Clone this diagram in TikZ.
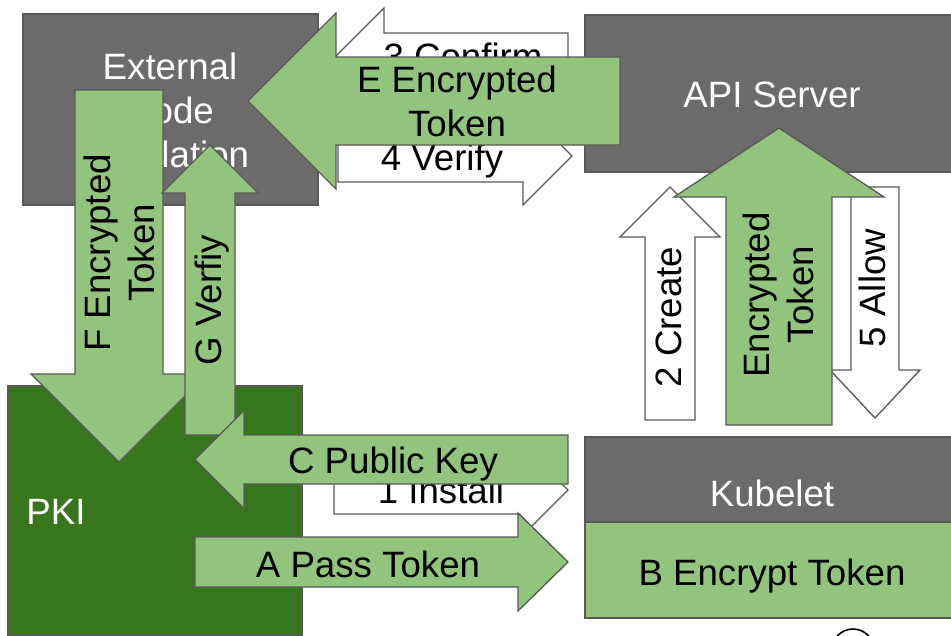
\documentclass[tikz,border=0pt]{standalone}
\usepackage{fontspec}
\setmainfont{Liberation Sans}
\definecolor{boxgray}{HTML}{6B6B6B}
\definecolor{leaf}{HTML}{93C47D}
\definecolor{forest}{HTML}{38761D}
\definecolor{edge}{HTML}{595959}
\definecolor{logoblue}{HTML}{3D8FD1}

% Horizontal block arrow: style, tail x, head base x, tip x, centre y, body half height, head half height
\newcommand\blockarrowH[7]{%
  \draw[#1] (#2,{#5-#6}) -- (#3,{#5-#6}) -- (#3,{#5-#7}) -- (#4,#5)
    -- (#3,{#5+#7}) -- (#3,{#5+#6}) -- (#2,{#5+#6}) -- cycle;}
% Vertical block arrow: style, tail y, head base y, tip y, centre x, body half width, head half width
\newcommand\blockarrowV[7]{%
  \draw[#1] ({#5-#6},#2) -- ({#5-#6},#3) -- ({#5-#7},#3) -- (#5,#4)
    -- ({#5+#7},#3) -- ({#5+#6},#3) -- ({#5+#6},#2) -- cycle;}

\begin{document}
\begin{tikzpicture}[x=0.75pt,y=-0.75pt,line join=miter,
  whitearrow/.style={draw=edge,fill=white,line width=1pt},
  greenarrow/.style={draw=edge,fill=leaf,line width=1pt},
  lbl/.style={font=\fontsize{27.5}{33}\selectfont,text=black,inner sep=0pt,align=center},
  wlbl/.style={lbl,text=white},
  graybox/.style={draw=edge,fill=boxgray,line width=1pt},
  pkibox/.style={draw=edge,fill=forest,line width=1pt},
  kubebox/.style={draw=edge,fill=leaf,line width=1pt}]
\useasboundingbox (0,0) rectangle (951,636);
\clip (0,0) rectangle (951,636);

% component boxes
\draw[graybox] (23,14) rectangle (318,205);
\node[wlbl] (ext) at (170,110) {External\\Node\\Validation};
\draw[graybox] (585,15) rectangle (960,172);
\node[wlbl,anchor=base] (api) at (772,107) {API Server};
\draw[pkibox] (8,386) rectangle (302,635);
\node[wlbl,anchor=base] (pki) at (56,524) {PKI};
\draw[graybox] (585,437) rectangle (960,522);
\node[wlbl,anchor=base] (kubelet) at (772,506) {Kubelet};
\draw[kubebox] (585,522) rectangle (960,618);
\node[lbl,anchor=base] (encrypt) at (772,585) {B Encrypt Token};

% validation <-> API server
\blockarrowH{whitearrow}{568}{384}{335}{57}{24}{49}
\node[lbl,anchor=base] (confirm) at (463,69) {3 Confirm};
\blockarrowH{whitearrow}{338}{523}{572}{156}{26}{49}
\node[lbl,anchor=base] (verify) at (442,170) {4 Verify};
\blockarrowH{greenarrow}{620}{336}{248}{101}{44}{88}
\node[lbl] (etoken) at (457,101) {E Encrypted\\Token};

% kubelet <-> API server
\blockarrowV{whitearrow}{420}{237}{187}{670}{25}{50}
\node[lbl,rotate=90] (create) at (669,317) {2 Create};
\blockarrowV{whitearrow}{187}{370}{418}{875}{24}{45}
\node[lbl,rotate=90] (allow) at (872,288) {5 Allow};
\blockarrowV{greenarrow}{425}{197}{128}{779}{53}{105}
\node[lbl,rotate=90] (vtoken) at (778,295) {Encrypted\\Token};

% validation <-> PKI
\blockarrowV{greenarrow}{90}{374}{462}{119}{44}{88}
\node[lbl,rotate=90] (ftoken) at (119,253) {F Encrypted\\Token};
\blockarrowV{greenarrow}{435}{193}{145}{210}{25}{48}
\node[lbl,rotate=90] (gverify) at (212,300) {G Verfiy};

% PKI <-> kubelet
\blockarrowH{whitearrow}{334}{520}{568}{490}{24}{48}
\node[lbl,anchor=base] (install) at (441,503) {1 Install};
\blockarrowH{greenarrow}{568}{244}{195}{459.5}{24.5}{49}
\node[lbl,anchor=base] (pubkey) at (393,473) {C Public Key};
\blockarrowH{greenarrow}{195}{518}{568}{562}{25}{49}
\node[lbl,anchor=base] (pass) at (368,577) {A Pass Token};

% corner logo, cut by the page edge
\draw[black,line width=1.2pt] (853,650) circle (21);
\draw[black,line width=1.2pt] (872,640) arc (180:60:6);
\draw[logoblue,line width=2pt] (856,651) circle (12);
\end{tikzpicture}
\end{document}
